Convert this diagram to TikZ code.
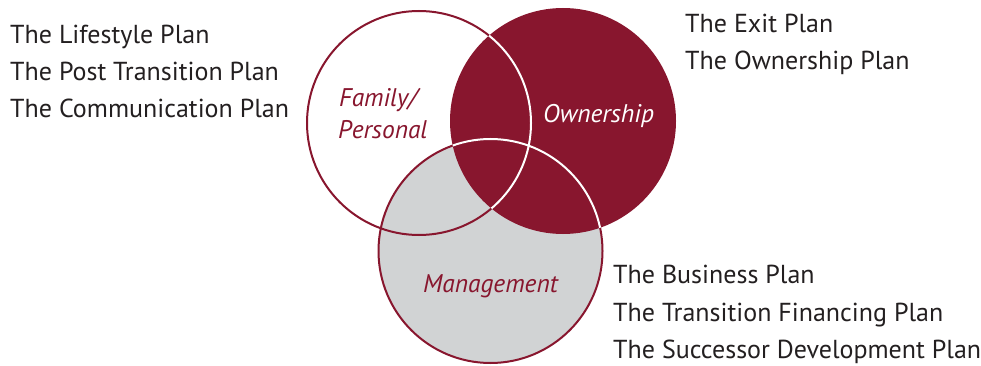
\documentclass[tikz,border=0pt]{standalone}
\usepackage{fontspec}
\setmainfont{PT Sans}
\definecolor{maroon}{RGB}{136,22,46}
\definecolor{mgray}{RGB}{209,211,212}
\definecolor{txt}{RGB}{35,31,32}
\begin{document}
\begin{tikzpicture}[x=1pt,y=-1pt,
  plan/.style={anchor=base west,inner sep=0pt,text=txt,font=\fontsize{26}{30}\selectfont},
  lbl/.style={anchor=base west,inner sep=0pt,font=\fontsize{25.5}{30}\selectfont\itshape},
  ring/.style={line width=2pt}]
\useasboundingbox (0,0) rectangle (981,366);
\coordinate (fam) at (419,123);
\coordinate (own) at (563,121);
\coordinate (man) at (490.5,251);
\def\R{112}
\fill[white] (fam) circle (\R);
\fill[mgray] (man) circle (\R);
\draw[ring,maroon] (fam) circle (\R);
\draw[ring,maroon] (man) circle (\R);
\fill[maroon] (own) circle (\R+1);
\begin{scope}
  \clip (own) circle (\R+1);
  \draw[ring,white] (fam) circle (\R);
  \draw[ring,white] (man) circle (\R);
\end{scope}
\node[lbl,text=maroon] (family) at (339,107) {Family/};
\node[lbl,text=maroon] (personal) at (338,139) {Personal};
\node[lbl,text=white] (ownership) at (543,123) {Ownership};
\node[lbl,text=maroon] (management) at (423,292) {Management};
\node[plan] (p1) at (10,44) {The Lifestyle Plan};
\node[plan] (p2) at (10,81) {The Post Transition Plan};
\node[plan] (p3) at (10,118) {The Communication Plan};
\node[plan] (p4) at (685,33) {The Exit Plan};
\node[plan] (p5) at (685,70) {The Ownership Plan};
\node[plan] (p6) at (613,283) {The Business Plan};
\node[plan] (p7) at (613,321) {The Transition Financing Plan};
\node[plan] (p8) at (613,358) {The Successor Development Plan};
\end{tikzpicture}
\end{document}
